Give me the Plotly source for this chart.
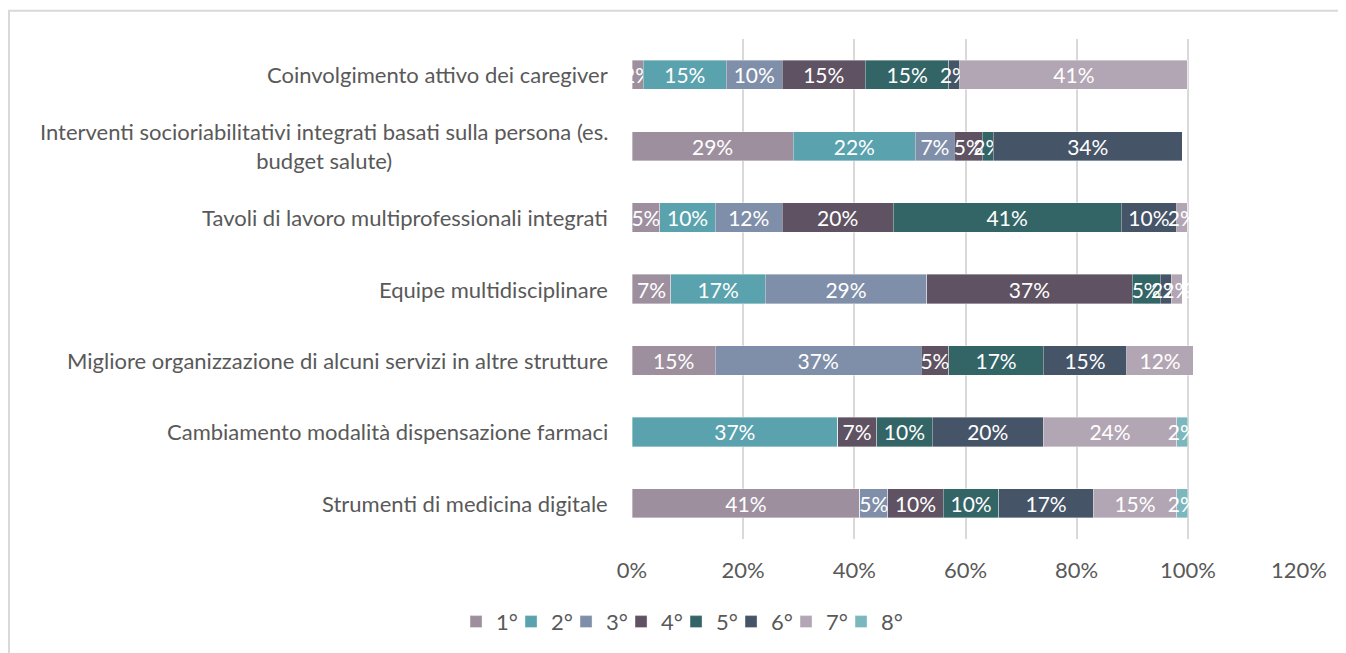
import plotly.graph_objects as go

categories = [
    "Coinvolgimento attivo dei caregiver",
    "Interventi socioriabilitativi integrati basati sulla persona (es.<br>budget salute)",
    "Tavoli di lavoro multiprofessionali integrati",
    "Equipe multidisciplinare",
    "Migliore organizzazione di alcuni servizi in altre strutture",
    "Cambiamento modalità dispensazione farmaci",
    "Strumenti di medicina digitale",
]
series_names = ["1°", "2°", "3°", "4°", "5°", "6°", "7°", "8°"]
s1 = [2, 29, 5, 7, 15, 0, 41]
s2 = [15, 22, 10, 17, 0, 37, 0]
s3 = [10, 7, 12, 29, 37, 0, 5]
s4 = [15, 5, 20, 37, 5, 7, 10]
s5 = [15, 2, 41, 5, 17, 10, 10]
s6 = [2, 34, 10, 2, 15, 20, 17]
s7 = [41, 0, 2, 2, 12, 24, 15]
s8 = [0, 0, 0, 0, 0, 2, 2]
series_values = [s1, s2, s3, s4, s5, s6, s7, s8]
colors = ["#9e8f9f", "#5aa2ad", "#7f8fa9", "#5f5262", "#336567", "#465468", "#b3a6b4", "#7bb7bd"]
tick_vals = [0, 20, 40, 60, 80, 100, 120]
tick_text = [f"{v}%" for v in tick_vals]

FONT = "Lato"
TXT = "#595959"

fig = go.Figure()
for i, (name, vals, col) in enumerate(zip(series_names, series_values, colors)):
    fig.add_trace(go.Bar(
        y=categories, x=vals, name=name, orientation="h",
        marker=dict(color=col, line=dict(color="rgba(255,255,255,0.6)", width=0.6)),
        text=[f"{v}%" if v else "" for v in vals],
        textposition="inside", insidetextanchor="middle", textangle=0,
        textfont=dict(color="white", size=21, family=FONT),
        cliponaxis=True, hoverinfo="skip",
        legendwidth=28 if i == len(series_names) - 1 else 10,
    ))

for c in categories:
    fig.add_annotation(
        x=0, y=c, xref="paper", yref="y", xanchor="right", yanchor="middle",
        xshift=-22, text=c, showarrow=False, align="center",
        font=dict(size=22, color=TXT, family=FONT),
    )

fig.add_shape(type="rect", xref="paper", yref="paper",
              x0=-0.934, x1=1.2, y0=-0.4, y1=1.0567,
              line=dict(color="#d9d9d9", width=2), fillcolor="rgba(0,0,0,0)", layer="below")

fig.update_layout(
    width=1346, height=653,
    margin=dict(l=624, r=55, t=31, b=122),
    barmode="stack", bargap=0.59,
    plot_bgcolor="white", paper_bgcolor="white",
    font=dict(family=FONT, color=TXT, size=22),
    uniformtext=dict(minsize=21, mode="show"),
    showlegend=True,
    legend=dict(orientation="h", xref="container", yref="container",
                x=0.503, y=0.06, xanchor="center", yanchor="middle",
                font=dict(size=22, color=TXT, family=FONT),
                entrywidth=10, entrywidthmode="pixels", traceorder="normal"),
    xaxis=dict(range=[0, 120], tickmode="array", tickvals=tick_vals, ticktext=tick_text,
               showgrid=True, gridcolor="#d9d9d9", gridwidth=1.5,
               zeroline=False, showline=False, ticks="",
               ticklabelstandoff=16, tickfont=dict(size=22, color=TXT, family=FONT)),
    yaxis=dict(showticklabels=False, autorange="reversed", showgrid=False,
               zeroline=False, showline=False, ticks=""),
)

fig.write_html("out.html")
